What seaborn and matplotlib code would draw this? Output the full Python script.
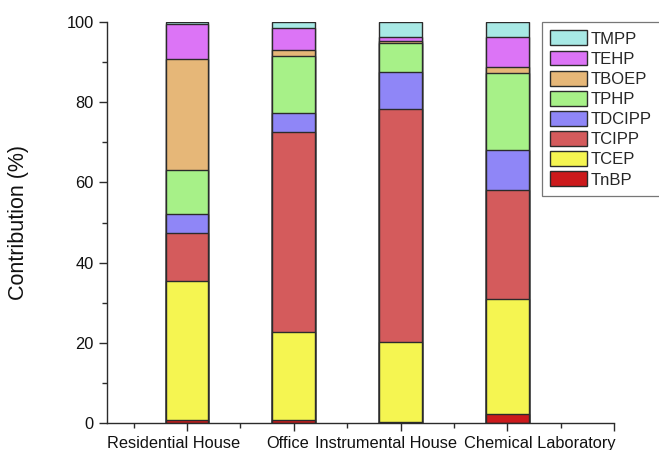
import numpy as np
import pandas as pd
import matplotlib
matplotlib.use("Agg")
import matplotlib.pyplot as plt
import matplotlib.transforms as mtransforms
from matplotlib.ticker import MultipleLocator
import seaborn as sns

sns.set_theme(style="ticks")
plt.rcParams["font.family"] = ["Liberation Sans", "DejaVu Sans"]

# Sampling sites (blank slots pad both ends of the axis)
sites = ["Residential House", "Office", "Instrumental House", "Chemical Laboratory"]
axis_order = [""] + sites + [" "]

# Contribution (%) of each organophosphate ester, bottom to top of the stack
compounds = ["TnBP", "TCEP", "TCIPP", "TDCIPP", "TPHP", "TBOEP", "TEHP", "TMPP"]
TnBP   = [0.7, 0.7, 0.3, 2.2]
TCEP   = [34.6, 22.0, 19.8, 28.6]
TCIPP  = [12.2, 49.8, 58.2, 27.4]
TDCIPP = [4.5, 4.8, 9.2, 9.8]
TPHP   = [11.2, 14.2, 7.3, 19.2]
TBOEP  = [27.6, 1.6, 0.5, 1.6]
TEHP   = [8.6, 5.4, 0.9, 7.4]
TMPP   = [0.6, 1.5, 3.8, 3.8]

colors = {
    "TnBP": "#cc1a1c",
    "TCEP": "#f5f551",
    "TCIPP": "#d45b5c",
    "TDCIPP": "#8f86f7",
    "TPHP": "#a7f188",
    "TBOEP": "#e6b778",
    "TEHP": "#dc74f6",
    "TMPP": "#a8e9e5",
}

values = np.array([TnBP, TCEP, TCIPP, TDCIPP, TPHP, TBOEP, TEHP, TMPP])
tops = np.cumsum(values, axis=0)

fig = plt.figure(figsize=(6.59, 4.5), dpi=100)
ax = fig.add_axes([107 / 659, 27 / 450, 507 / 659, 401 / 450])

# Stack by overlaying cumulative bars, tallest first
for i in range(len(compounds) - 1, -1, -1):
    name = compounds[i]
    df = pd.DataFrame({"site": sites, "top": tops[i]})
    sns.barplot(data=df, x="site", y="top", order=axis_order, color=colors[name],
                saturation=1, width=0.4, edgecolor="#2b2b2b", linewidth=1.0,
                label=name, ax=ax)

ax.set_xlim(0.25, 5)
ax.set_ylim(0, 100)
ax.set_xticks(range(1, len(axis_order)))
ax.set_xticklabels(axis_order[1:], fontsize=11.8, color="#111111")
ax.xaxis.set_minor_locator(MultipleLocator(0.5))
ax.yaxis.set_major_locator(MultipleLocator(20))
ax.yaxis.set_minor_locator(MultipleLocator(10))
ax.tick_params(axis="both", which="major", direction="out", length=6, width=1.0,
               color="#2b2b2b", labelsize=11.8, labelcolor="#111111")
ax.tick_params(axis="both", which="minor", direction="out", length=3.5, width=1.0,
               color="#2b2b2b")

# Nudge the long site names sideways so neighbours do not collide
nudges_px = [-13, -6, -15, 33, 0]
for lab, dx in zip(ax.get_xticklabels(), nudges_px):
    lab.set_transform(lab.get_transform() +
                      mtransforms.ScaledTranslation(dx / 100, 0, fig.dpi_scale_trans))

ax.set_xlabel("")
ax.set_ylabel("Contribution (%)", fontsize=15.5, color="#111111", labelpad=27)
for side in ["top", "right"]:
    ax.spines[side].set_visible(False)
for side in ["left", "bottom"]:
    ax.spines[side].set_color("#2b2b2b")
    ax.spines[side].set_linewidth(1.0)

leg = ax.legend(loc="upper left", bbox_to_anchor=(542 / 659, 1 - 22 / 450),
                bbox_transform=fig.transFigure, frameon=True, fancybox=False,
                fontsize=12, handlelength=2.2, handleheight=1.0,
                handletextpad=0.2, labelspacing=0.24, borderpad=0.5,
                borderaxespad=0)
leg.get_frame().set_edgecolor("#555555")
leg.get_frame().set_linewidth(0.9)

fig.savefig("out.png", dpi=100)
